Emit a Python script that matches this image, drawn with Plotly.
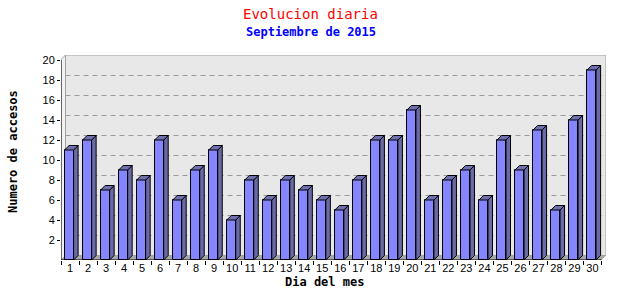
import plotly.graph_objects as go

days = list(range(1, 31))
day_labels = [str(d) for d in days]
accesos = [11, 12, 7, 9, 8, 12, 6, 9, 11, 4, 8, 6, 8, 7, 6, 5, 8, 12, 12, 15,
           6, 8, 9, 6, 12, 9, 13, 5, 14, 19]
y_ticks = [2, 4, 6, 8, 10, 12, 14, 16, 18, 20]

title = "Evolucion diaria"
subtitle = "Septiembre de 2015"
x_title = "Dia del mes"
y_title = "Numero de accesos"

# geometry (in data units)
PX_X = 18.0          # pixels per category
PX_Y = 10.0          # pixels per unit
dx = 4.5 / PX_X      # 3D depth horizontal
dy = 4.5 / PX_Y      # 3D depth vertical
bar_off = -0.3
bar_w = 0.5
x0r, x1r = 0.5, 30.5 + dx
y0r, y1r = 0, 20.5

FRONT = "#8585ff"
SIDE = "#6a6aa6"
TOP = "#6f6fb2"

fig = go.Figure()

# back wall, left wall, floor
shapes = []
shapes.append(dict(type="path", layer="below",
                   path=f"M{x0r},{0} L{x0r+dx},{dy} L{x0r+dx},{y1r} L{x0r},{y1r-dy} Z",
                   fillcolor="#f2f2f2", line=dict(color="#a0a0a0", width=1), xref="x", yref="y"))
shapes.append(dict(type="rect", layer="below", x0=x0r+dx, x1=x1r, y0=dy, y1=y1r,
                   fillcolor="#e8e8e8", line=dict(color="#a0a0a0", width=1), xref="x", yref="y"))
shapes.append(dict(type="path", layer="below",
                   path=f"M{x0r},0 L{x0r+dx},{dy} L{x1r},{dy} L{x1r-dx},0 Z",
                   fillcolor="#a8a8a8", line=dict(width=0), xref="x", yref="y"))
for v in y_ticks[:-1]:
    shapes.append(dict(type="line", layer="below", x0=x0r+dx, x1=x1r, y0=v+dy, y1=v+dy,
                       line=dict(color="#999999", width=1, dash="5px,4px"), xref="x", yref="y"))
# axis lines
shapes.append(dict(type="line", x0=x0r, x1=x0r, y0=0, y1=20, xref="x", yref="y",
                   line=dict(color="black", width=1)))
shapes.append(dict(type="line", x0=x0r, x1=30.5, y0=0, y1=0, xref="x", yref="y",
                   line=dict(color="black", width=1)))

# front faces
fig.add_trace(go.Bar(x=days, y=accesos, width=bar_w, offset=bar_off,
                     marker=dict(color=FRONT, line=dict(color="black", width=1)),
                     hoverinfo="x+y"))

# side and top faces
sx, sy, tx, ty = [], [], [], []
for d, v in zip(days, accesos):
    a = d + bar_off
    b = a + bar_w
    sx += [b, b + dx, b + dx, b, b, None]
    sy += [0, dy, v + dy, v, 0, None]
    tx += [a, a + dx, b + dx, b, a, None]
    ty += [v, v + dy, v + dy, v, v, None]
fig.add_trace(go.Scatter(x=sx, y=sy, mode="lines", fill="toself", fillcolor=SIDE,
                         line=dict(color="black", width=1), hoverinfo="skip"))
fig.add_trace(go.Scatter(x=tx, y=ty, mode="lines", fill="toself", fillcolor=TOP,
                         line=dict(color="black", width=1), hoverinfo="skip"))

mono = "DejaVu Sans Mono"
annotations = [
    dict(text=title, x=310, y=14, xref="paper", yref="paper", showarrow=False,
         font=dict(family=mono, size=14, color="#ff0000")),
    dict(text=subtitle, x=311, y=32, showarrow=False,
         font=dict(family=mono, size=12, color="#0000ff", weight="bold")),
    dict(text=x_title, x=324, y=282, showarrow=False,
         font=dict(family=mono, size=12, color="black", weight="bold")),
    dict(text=y_title, x=13, y=152, showarrow=False, textangle=-90,
         font=dict(family=mono, size=12, color="black", weight="bold")),
]
L, R, T, B = 61, 34, 55, 40
W, H = 640, 300
pw, ph = W - L - R, H - T - B
for a in annotations:
    a["xref"] = "paper"
    a["yref"] = "paper"
    a["x"] = (a["x"] - L) / pw
    a["y"] = (H - B - a["y"]) / ph
    a["xanchor"] = "center"
    a["yanchor"] = "middle"

fig.update_layout(
    width=W, height=H, margin=dict(l=L, r=R, t=T, b=B, pad=0),
    paper_bgcolor="white", plot_bgcolor="white",
    showlegend=False, bargap=0,
    shapes=shapes, annotations=annotations,
    xaxis=dict(range=[x0r, x1r], tickvals=days, ticktext=day_labels, ticks="",
               showgrid=False, zeroline=False, showline=False, fixedrange=True,
               tickfont=dict(family="Liberation Sans", size=11, color="black"),
               minor=dict(tick0=0.5, dtick=1, ticks="outside", ticklen=4,
                          tickcolor="black", showgrid=False)),
    yaxis=dict(range=[y0r, y1r], tickvals=y_ticks, ticks="outside", ticklen=3,
               tickcolor="black", showgrid=False, zeroline=False, showline=False,
               fixedrange=True,
               tickfont=dict(family="Liberation Sans", size=11, color="black")),
)

fig.write_html("out.html")
